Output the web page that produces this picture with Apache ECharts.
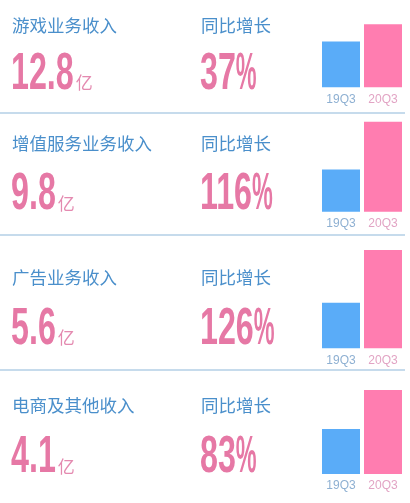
<!DOCTYPE html>
<html>
<head>
<meta charset="utf-8">
<script src="https://cdn.jsdelivr.net/npm/echarts@6/dist/echarts.min.js"></script>
<style>
html,body{margin:0;padding:0;background:#fff;}
#c{width:410px;height:503px;}
</style>
</head>
<body>
<div id="c"></div>
<script>
// ---- data ----
const categories = ['19Q3', '20Q3'];
const segments = ['游戏业务收入', '增值服务业务收入', '广告业务收入', '电商及其他收入'];
const revenue19Q3 = [9.3, 4.6, 2.6, 2.2];     // 亿
const revenue20Q3 = [12.8, 9.8, 5.6, 4.1];    // 亿
const growthPct = [37, 116, 126, 83];         // 同比增长 %
const growthLabel = '同比增长';
const unitLabel = '亿';

// ---- layout (positions only) ----
const panels = [
  { titleY: 25.5, numY: 74.5, barTop: 24.3, base: 87.3 },
  { titleY: 143.3, numY: 195, barTop: 121.7, base: 211.7 },
  { titleY: 277.5, numY: 329.5, barTop: 250, base: 348.3 },
  { titleY: 405, numY: 458, barTop: 390, base: 474 }
];
const separators = [113, 235, 370];

const BLUE_BAR = '#5aacf8';
const PINK_BAR = '#ff7db0';
const TITLE_C = '#4a8fcb';
const NUM_C = '#e678a5';
const LABEL_C = ['#8eb0d2', '#e2a4c4'];
const NUM_FONT = 'bold 52px "Liberation Sans",Arial,sans-serif';
const CJK_FONT = '"Noto Sans CJK SC",sans-serif';
const DIGIT_SX = 0.62, PCT_SX = 0.45;

const mctx = document.createElement('canvas').getContext('2d');
function measure(text, font) { mctx.font = font; return mctx.measureText(text).width; }

const chart = echarts.init(document.getElementById('c'));

const grid = [], xAxis = [], yAxis = [], series = [], graphic = [];
const txt = (x, y, text, font, fill, extra) => Object.assign({
  type: 'text', x: x, y: y, silent: true,
  style: { text: text, x: 0, y: 0, font: font, fill: fill,
    align: 'left', verticalAlign: 'middle', textAlign: 'left', textVerticalAlign: 'middle' }
}, extra || {});

panels.forEach((p, i) => {
  grid.push({ left: 320, width: 84, top: p.barTop, height: p.base - p.barTop });
  xAxis.push({
    gridIndex: i, type: 'category',
    data: categories.map((c, j) => ({ value: c, textStyle: { color: LABEL_C[j] } })),
    axisLine: { show: false }, axisTick: { show: false }, splitLine: { show: false },
    axisLabel: { margin: 6, fontSize: 12, fontFamily: '"Liberation Sans",sans-serif', interval: 0 }
  });
  yAxis.push({ gridIndex: i, type: 'value', min: 0, max: 'dataMax', show: false, splitLine: { show: false } });
  series.push({
    type: 'bar', xAxisIndex: i, yAxisIndex: i, barWidth: 38, silent: true,
    data: [
      { value: revenue19Q3[i], itemStyle: { color: BLUE_BAR } },
      { value: revenue20Q3[i], itemStyle: { color: PINK_BAR } }
    ]
  });

  graphic.push(txt(12, p.titleY, segments[i], '17.5px ' + CJK_FONT, TITLE_C));
  graphic.push(txt(201, p.titleY, growthLabel, '17.5px ' + CJK_FONT, TITLE_C));

  // revenue value + unit
  const numText = revenue20Q3[i].toFixed(1);
  const numX = 11;
  graphic.push(txt(numX, p.numY, numText, NUM_FONT, NUM_C, { scaleX: DIGIT_SX }));
  const numW = measure(numText, NUM_FONT) * DIGIT_SX;
  graphic.push(txt(numX + numW + 2, p.numY + 8.5, unitLabel, '17px ' + CJK_FONT, '#e48ab0'));

  // growth value + percent sign
  const gText = String(growthPct[i]);
  const gX = 200;
  graphic.push(txt(gX, p.numY, gText, NUM_FONT, NUM_C, { scaleX: DIGIT_SX }));
  const gW = measure(gText, NUM_FONT) * DIGIT_SX;
  graphic.push(txt(gX + gW, p.numY, '%', NUM_FONT, NUM_C, { scaleX: PCT_SX }));
});

separators.forEach(y => {
  graphic.push({
    type: 'line', silent: true,
    shape: { x1: 0, y1: y, x2: 405, y2: y },
    style: { stroke: '#b3cfe6', lineWidth: 1.5 }
  });
});

chart.setOption({
  backgroundColor: '#ffffff',
  animation: false,
  grid: grid, xAxis: xAxis, yAxis: yAxis, series: series, graphic: graphic
});
</script>
</body>
</html>
